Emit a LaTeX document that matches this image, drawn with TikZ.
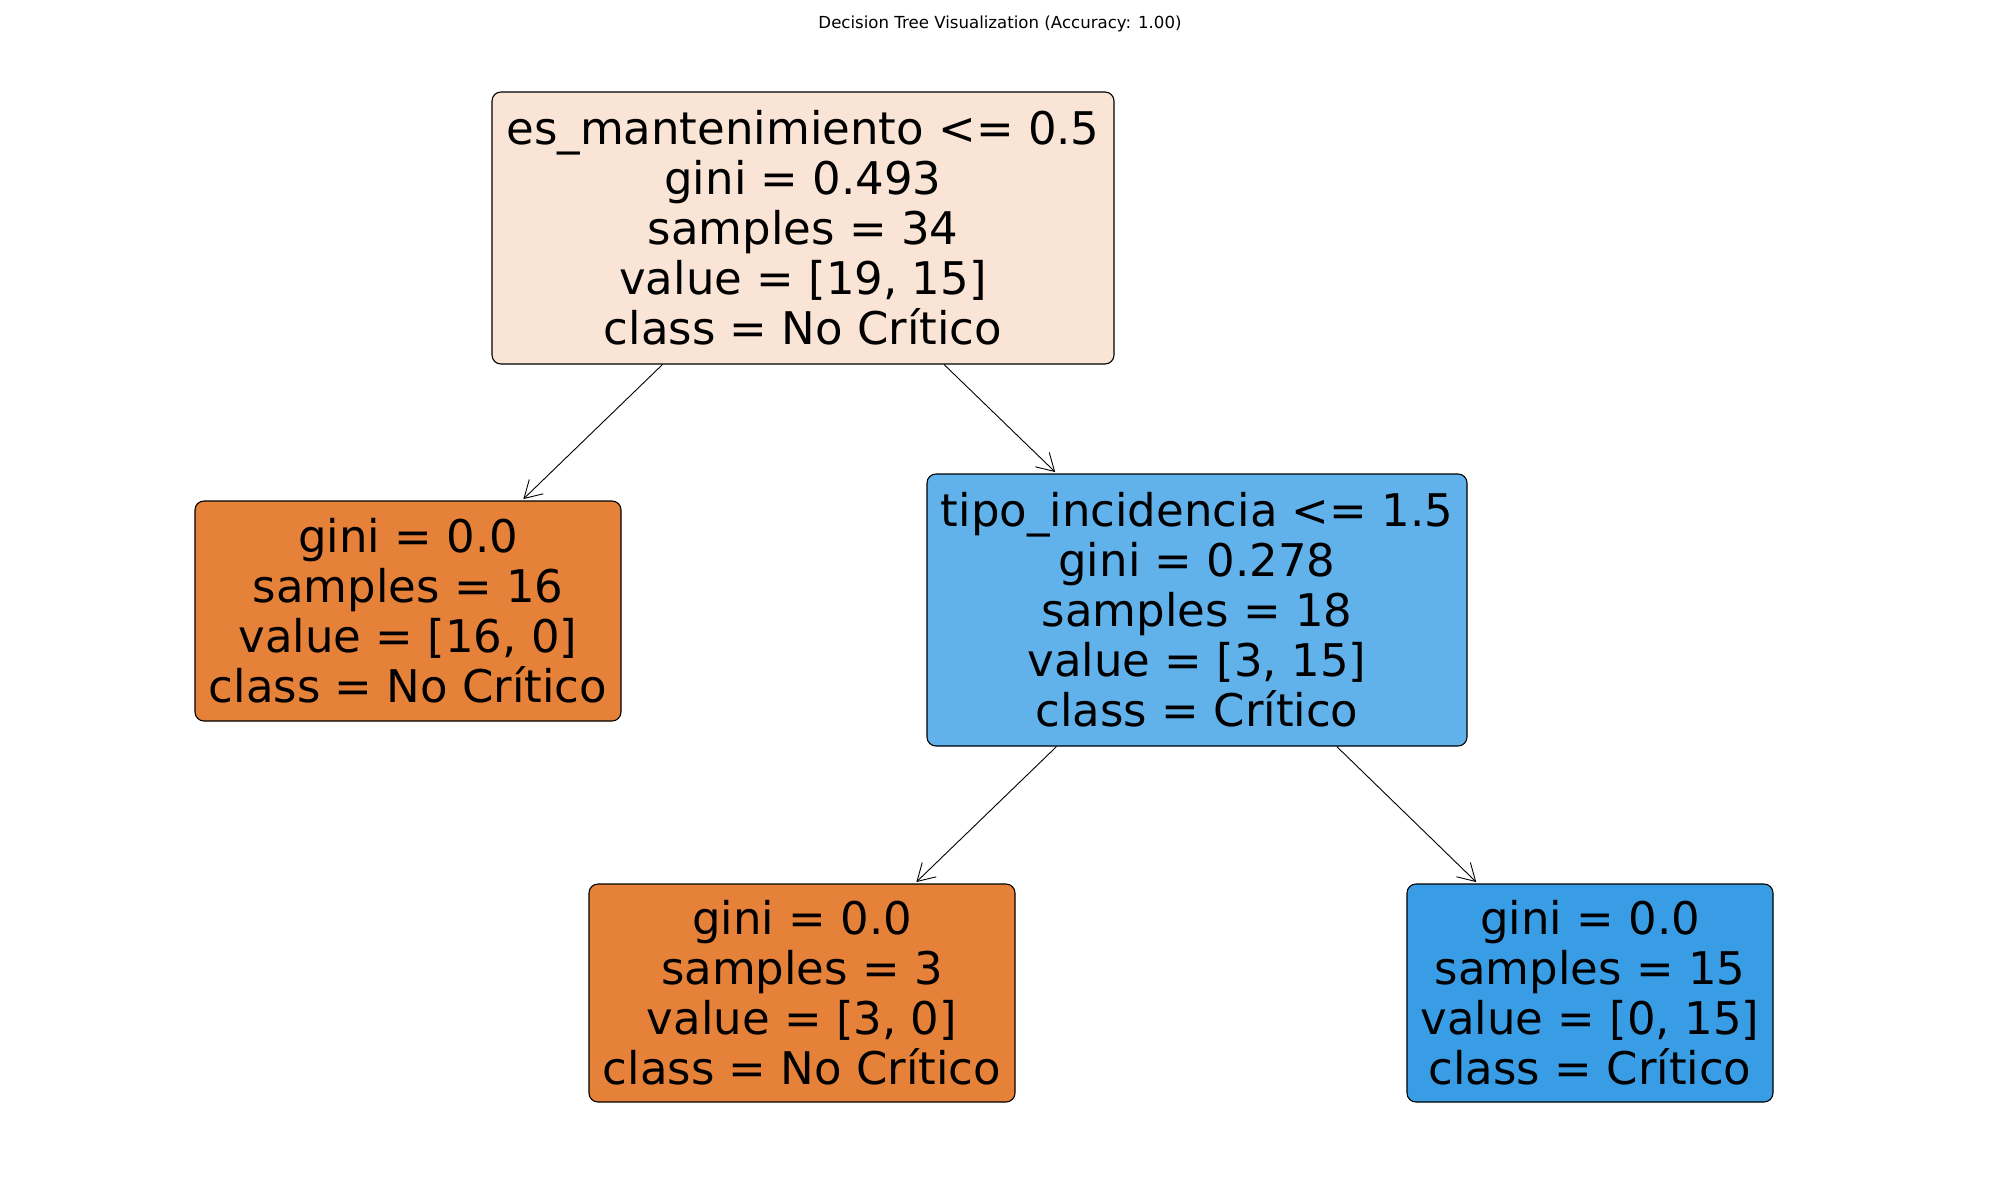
\documentclass[tikz,border=0pt]{standalone}
\usepackage{fontspec}
\setmainfont{DejaVu Sans}
\usetikzlibrary{arrows.meta}
\definecolor{rootc}{HTML}{F9E4D5}
\definecolor{orangec}{HTML}{E58139}
\definecolor{lightblue}{HTML}{61B1EA}
\definecolor{bluec}{HTML}{399DE5}
\begin{document}
\begin{tikzpicture}[x=1pt,y=-1pt,
  box/.style={draw=black, line width=1.1pt, rounded corners=9pt, inner sep=0pt, align=center,
              font=\fontsize{45}{50}\selectfont},
  edge/.style={line width=0.9pt, -{Straight Barb[length=17pt,width=20pt,line width=0.9pt]}, shorten >=2pt},
  titlestyle/.style={font=\fontsize{16.6}{19}\selectfont, inner sep=0pt}]
\useasboundingbox[fill=white] (0,0) rectangle (2000,1200);
\node[titlestyle] (title) at (1000,24) {Decision Tree Visualization (Accuracy: 1.00)};
\node[box, fill=rootc, minimum width=622pt, minimum height=272pt] (root) at (803,228)
  {es\_mantenimiento <= 0.5\\gini = 0.493\\samples = 34\\value = [19, 15]\\class = No Crítico};
\node[box, fill=orangec, minimum width=426pt, minimum height=220pt] (leafA) at (408,611)
  {gini = 0.0\\samples = 16\\value = [16, 0]\\class = No Crítico};
\node[box, fill=lightblue, minimum width=540pt, minimum height=272pt] (inner) at (1197,610)
  {tipo\_incidencia <= 1.5\\gini = 0.278\\samples = 18\\value = [3, 15]\\class = Crítico};
\node[box, fill=orangec, minimum width=426pt, minimum height=218pt] (leafB) at (802,993)
  {gini = 0.0\\samples = 3\\value = [3, 0]\\class = No Crítico};
\node[box, fill=bluec, minimum width=366pt, minimum height=218pt] (leafC) at (1590,993)
  {gini = 0.0\\samples = 15\\value = [0, 15]\\class = Crítico};
\draw[edge] (root) -- (leafA);
\draw[edge] (root) -- (inner);
\draw[edge] (inner) -- (leafB);
\draw[edge] (inner) -- (leafC);
\end{tikzpicture}
\end{document}
